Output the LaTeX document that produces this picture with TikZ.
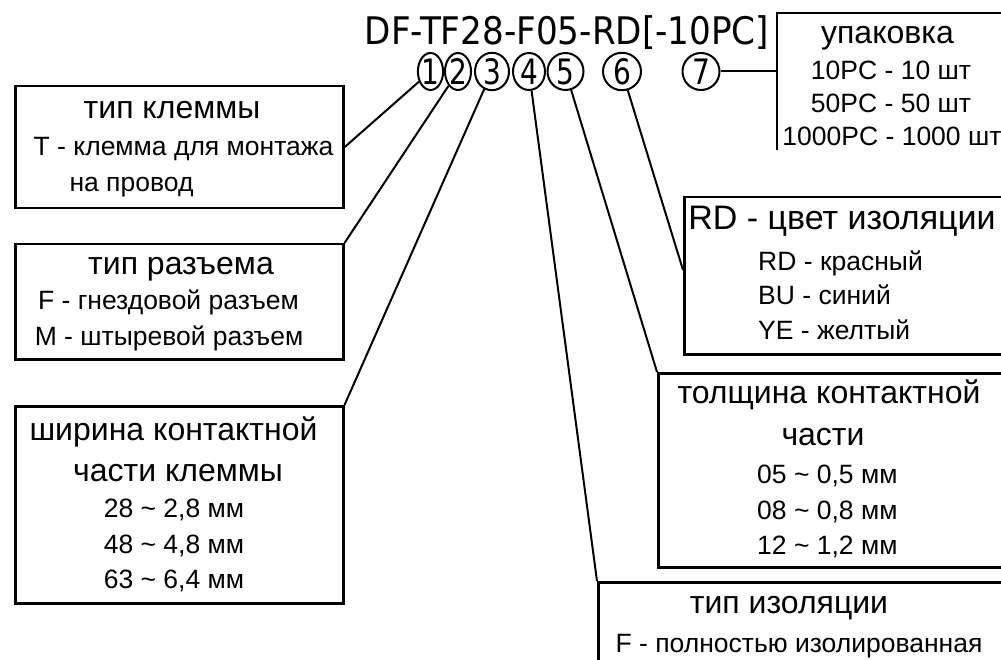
\documentclass[tikz,border=0pt]{standalone}
\usepackage{fontspec}
\setmainfont{Liberation Sans}
\newfontfamily\codefont[FakeStretch=0.9]{DejaVu Sans}
\newfontfamily\digfont[FakeStretch=0.8]{DejaVu Sans}
\usetikzlibrary{shapes.geometric}
\begin{document}
\begin{tikzpicture}[x=1pt,y=-1pt,
  boxst/.style={draw, line width=2.5pt, inner sep=0pt, anchor=north west},
  ttl/.style={font=\fontsize{32}{38}\selectfont, anchor=base, inner sep=0pt},
  bigttl/.style={font=\fontsize{34}{40}\selectfont, anchor=base, inner sep=0pt},
  det/.style={font=\fontsize{26.5}{32}\selectfont, anchor=base, inner sep=0pt},
  detw/.style={det, anchor=base west},
  num/.style={ellipse, draw, line width=2pt, inner sep=0pt, minimum height=37pt,
    font=\digfont\fontsize{35}{35}\selectfont},
  conn/.style={line width=2pt}]
\useasboundingbox (0,0) rectangle (1001,660);
\clip (0,0) rectangle (1001,660);

% code
\node[font=\codefont\fontsize{38}{40}\selectfont, anchor=base, inner sep=0pt] (code) at (567,45) {DF-TF28-F05-RD[-10PC]};

% numbers
\node[num, minimum width=25pt] (n1) at (430.5,71.5) {1};
\node[num, minimum width=26pt] (n2) at (458,71.5) {2};
\node[num, minimum width=34pt] (n3) at (492,71.5) {3};
\node[num, minimum width=32pt] (n4) at (529,71.5) {4};
\node[num, minimum width=36pt] (n5) at (565.5,71.5) {5};
\node[num, minimum width=38pt] (n6) at (622,71.5) {6};
\node[num, minimum width=37pt] (n7) at (701,71.5) {7};

% boxes
\node[boxst, minimum width=328pt, minimum height=122pt] (b1) at (14,85) {};
\node[boxst, minimum width=328pt, minimum height=115pt] (b2) at (14,243) {};
\node[boxst, minimum width=328pt, minimum height=197pt] (b3) at (14,405) {};
\node[inner sep=0pt, minimum width=250pt, minimum height=137pt, anchor=north west] (b4) at (777,13) {};
\draw[line width=2.5pt] (b4.south west) -- (b4.north west) -- (b4.north east);
\node[boxst, minimum width=340pt, minimum height=157pt] (b5) at (683,196) {};
\node[boxst, minimum width=370pt, minimum height=194pt] (b6) at (657,372) {};
\node[boxst, minimum width=430pt, minimum height=110pt] (b7) at (597,581) {};

% box 1
\node[ttl] (t1a) at (172,119) {тип клеммы};
\node[det] (t1b) at (183.5,156) {T - клемма для монтажа};
\node[det] (t1c) at (131.5,192) {на провод};
% box 2
\node[ttl] (t2a) at (181,275) {тип разъема};
\node[det] (t2b) at (168.5,309) {F - гнездовой разъем};
\node[det] (t2c) at (169,345) {M - штыревой разъем};
% box 3
\node[ttl] (t3a) at (173.5,440) {ширина контактной};
\node[ttl] (t3b) at (178,481) {части клеммы};
\node[det] (t3c) at (174,517) {28 \textasciitilde{} 2,8 мм};
\node[det] (t3d) at (174,553) {48 \textasciitilde{} 4,8 мм};
\node[det] (t3e) at (174,588) {63 \textasciitilde{} 6,4 мм};
% box 4
\node[ttl] (t4a) at (887.5,44) {упаковка};
\node[det] (t4b) at (891,80) {10PC - 10 шт};
\node[det] (t4c) at (891,113) {50PC - 50 шт};
\node[det] (t4d) at (892,146) {1000PC - 1000 шт};
% box 5
\node[bigttl] (t5a) at (842,230) {RD - цвет изоляции};
\node[detw] (t5b) at (758,271) {RD - красный};
\node[detw] (t5c) at (758,305) {BU - синий};
\node[detw] (t5d) at (758,339) {YE - желтый};
% box 6
\node[ttl] (t6a) at (829,403) {толщина контактной};
\node[ttl] (t6b) at (823,445) {части};
\node[detw] (t6c) at (757,483) {05 \textasciitilde{} 0,5 мм};
\node[detw] (t6d) at (757,519) {08 \textasciitilde{} 0,8 мм};
\node[detw] (t6e) at (757,554) {12 \textasciitilde{} 1,2 мм};
% box 7
\node[ttl] (t7a) at (789,613) {тип изоляции};
\node[det] (t7b) at (799,652) {F - полностью изолированная};

% connectors
\coordinate (e6) at (683,270);
\draw[conn] (n1) -- (b1.east);
\draw[conn] (n2) -- (b2.north east);
\draw[conn] (n3) -- (b3.north east);
\draw[conn] (n4) -- (b7.north west);
\draw[conn] (n5) -- (b6.north west);
\draw[conn] (n6) -- (e6);
\draw[conn] (n7) -- (n7 -| b4.west);
\end{tikzpicture}
\end{document}
